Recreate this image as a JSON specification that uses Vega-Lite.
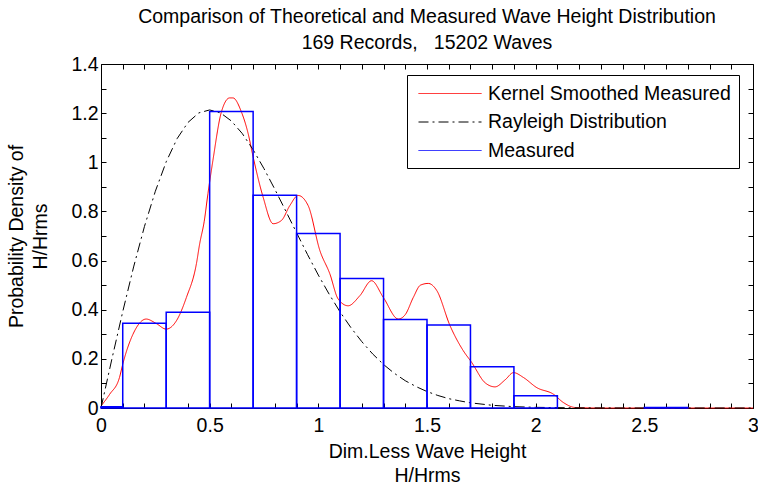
{
  "$schema": "https://vega.github.io/schema/vega-lite/v6.json",
  "width": 652,
  "height": 344,
  "autosize": "none",
  "padding": {"left": 101, "top": 64, "right": 5, "bottom": 81},
  "background": "white",
  "config": {
    "font": "Liberation Sans",
    "view": {"stroke": "black", "strokeWidth": 1},
    "axis": {
      "domain": false,
      "grid": false,
      "tickColor": "black",
      "tickSize": -5,
      "labelColor": "black",
      "labelFontSize": 19.5,
      "titleFontSize": 19.5,
      "titleFontWeight": "normal",
      "titleColor": "black",
      "labelOverlap": false,
      "labelFlush": false
    }
  },
  "title": {
    "text": ["Comparison of Theoretical and Measured Wave Height Distribution", "169 Records,\u00a0\u00a0 15202 Waves"],
    "fontSize": 19.5,
    "fontWeight": "normal",
    "lineHeight": 26,
    "anchor": "middle",
    "color": "black",
    "offset": 1
  },
  "datasets": {
    "kernel": [
      {"x": 0, "y": 0.008}, {"x": 0.04, "y": 0.056}, {"x": 0.085, "y": 0.124}, {"x": 0.1, "y": 0.178},
      {"x": 0.147, "y": 0.3}, {"x": 0.208, "y": 0.362}, {"x": 0.254, "y": 0.344}, {"x": 0.3, "y": 0.321},
      {"x": 0.347, "y": 0.355}, {"x": 0.393, "y": 0.45}, {"x": 0.439, "y": 0.587}, {"x": 0.454, "y": 0.668},
      {"x": 0.475, "y": 0.76}, {"x": 0.492, "y": 0.872}, {"x": 0.515, "y": 1.008}, {"x": 0.554, "y": 1.205},
      {"x": 0.592, "y": 1.262}, {"x": 0.607, "y": 1.262}, {"x": 0.646, "y": 1.205}, {"x": 0.677, "y": 1.117},
      {"x": 0.7, "y": 1.022}, {"x": 0.746, "y": 0.858}, {"x": 0.792, "y": 0.75}, {"x": 0.83, "y": 0.763},
      {"x": 0.869, "y": 0.824}, {"x": 0.907, "y": 0.865}, {"x": 0.953, "y": 0.824}, {"x": 1.007, "y": 0.641},
      {"x": 1.053, "y": 0.546}, {"x": 1.091, "y": 0.444}, {"x": 1.137, "y": 0.416}, {"x": 1.191, "y": 0.457},
      {"x": 1.245, "y": 0.518}, {"x": 1.299, "y": 0.45}, {"x": 1.368, "y": 0.362}, {"x": 1.4, "y": 0.38},
      {"x": 1.437, "y": 0.45}, {"x": 1.47, "y": 0.5}, {"x": 1.506, "y": 0.507}, {"x": 1.545, "y": 0.478},
      {"x": 1.606, "y": 0.335}, {"x": 1.667, "y": 0.233}, {"x": 1.706, "y": 0.185}, {"x": 1.767, "y": 0.103},
      {"x": 1.813, "y": 0.086}, {"x": 1.86, "y": 0.115}, {"x": 1.898, "y": 0.144}, {"x": 1.944, "y": 0.124},
      {"x": 2.005, "y": 0.083}, {"x": 2.082, "y": 0.056}, {"x": 2.128, "y": 0.022}, {"x": 2.182, "y": 0.002},
      {"x": 2.3, "y": 0}, {"x": 3.0, "y": 0}
    ],
    "rayleigh": [
      {"x": 0, "y": 0}, {"x": 0.05, "y": 0.199}, {"x": 0.1, "y": 0.392}, {"x": 0.15, "y": 0.574},
      {"x": 0.2, "y": 0.739}, {"x": 0.25, "y": 0.882}, {"x": 0.3, "y": 1.002}, {"x": 0.35, "y": 1.096},
      {"x": 0.4, "y": 1.162}, {"x": 0.45, "y": 1.201}, {"x": 0.5, "y": 1.213}, {"x": 0.55, "y": 1.201},
      {"x": 0.6, "y": 1.168}, {"x": 0.65, "y": 1.117}, {"x": 0.7, "y": 1.051}, {"x": 0.75, "y": 0.974},
      {"x": 0.8, "y": 0.89}, {"x": 0.85, "y": 0.802}, {"x": 0.9, "y": 0.713}, {"x": 0.95, "y": 0.625},
      {"x": 1.0, "y": 0.541}, {"x": 1.05, "y": 0.463}, {"x": 1.1, "y": 0.391}, {"x": 1.15, "y": 0.327},
      {"x": 1.2, "y": 0.27}, {"x": 1.25, "y": 0.22}, {"x": 1.3, "y": 0.177}, {"x": 1.35, "y": 0.141},
      {"x": 1.4, "y": 0.111}, {"x": 1.45, "y": 0.087}, {"x": 1.5, "y": 0.067}, {"x": 1.55, "y": 0.051},
      {"x": 1.6, "y": 0.038}, {"x": 1.65, "y": 0.029}, {"x": 1.7, "y": 0.021}, {"x": 1.8, "y": 0.011},
      {"x": 1.9, "y": 0.0055}, {"x": 2.0, "y": 0.0027}, {"x": 2.2, "y": 0.0005}, {"x": 2.5, "y": 0},
      {"x": 3.0, "y": 0}
    ],
    "hist": [
      {"x0": 0, "x1": 0.1, "h": 0.005}, {"x0": 0.1, "x1": 0.3, "h": 0.345}, {"x0": 0.3, "x1": 0.5, "h": 0.39},
      {"x0": 0.5, "x1": 0.7, "h": 1.207}, {"x0": 0.7, "x1": 0.9, "h": 0.866}, {"x0": 0.9, "x1": 1.1, "h": 0.71},
      {"x0": 1.1, "x1": 1.3, "h": 0.527}, {"x0": 1.3, "x1": 1.5, "h": 0.36}, {"x0": 1.5, "x1": 1.7, "h": 0.338},
      {"x0": 1.7, "x1": 1.9, "h": 0.168}, {"x0": 1.9, "x1": 2.1, "h": 0.05}, {"x0": 2.5, "x1": 2.7, "h": 0.002}
    ]
  },
  "layer": [
    {
      "data": {"name": "kernel"},
      "mark": {"type": "line", "interpolate": "monotone", "strokeWidth": 1},
      "encoding": {
        "x": {
          "field": "x", "type": "quantitative",
          "scale": {"domain": [0, 3], "nice": false, "zero": false},
          "axis": {
            "orient": "bottom",
            "title": ["Dim.Less Wave Height", "H/Hrms"],
            "titleLineHeight": 24,
            "titlePadding": 8,
            "values": [0,0.1,0.2,0.3,0.4,0.5,0.6,0.7,0.8,0.9,1,1.1,1.2,1.3,1.4,1.5,1.6,1.7,1.8,1.9,2,2.1,2.2,2.3,2.4,2.5,2.6,2.7,2.8,2.9,3],
            "labelExpr": "abs(datum.value*2 - round(datum.value*2)) < 0.001 ? format(datum.value, '~g') : ''",
            "labelPadding": 13
          }
        },
        "y": {
          "field": "y", "type": "quantitative",
          "scale": {"domain": [0, 1.4], "nice": false},
          "axis": {
            "orient": "left",
            "title": ["Probability Density of", "H/Hrms"],
            "titleLineHeight": 24,
            "titlePadding": 20,
            "values": [0,0.1,0.2,0.3,0.4,0.5,0.6,0.7,0.8,0.9,1,1.1,1.2,1.3,1.4],
            "labelExpr": "abs(datum.value*5 - round(datum.value*5)) < 0.001 ? format(datum.value, '~g') : ''",
            "labelPadding": 8
          }
        },
        "color": {
          "datum": "Kernel Smoothed Measured", "type": "nominal",
          "scale": {"domain": ["Kernel Smoothed Measured", "Rayleigh Distribution", "Measured"], "range": ["#ff0000", "#000000", "#0000ff"]},
          "legend": {
            "orient": "none", "legendX": 306, "legendY": 11, "title": null,
            "symbolType": "M-3.15,0H3.15", "symbolSize": 400, "symbolStrokeWidth": 1,
            "labelFontSize": 19.5, "labelColor": "black", "labelOffset": 27.5, "labelLimit": 500,
            "labelExpr": "datum.label + '\u00a0\u00a0\u00a0\u00a0'",
            "padding": 8, "rowPadding": 8.5, "symbolOffset": 24.5,
            "fillColor": "white", "strokeColor": "black"
          }
        },
        "strokeDash": {
          "datum": "Kernel Smoothed Measured", "type": "nominal",
          "scale": {"domain": ["Kernel Smoothed Measured", "Rayleigh Distribution", "Measured"], "range": [[1, 0], [10, 4, 2, 4], [1, 0]]},
          "legend": {
            "orient": "none", "legendX": 306, "legendY": 11, "title": null,
            "symbolType": "M-3.15,0H3.15", "symbolSize": 400, "symbolStrokeWidth": 1,
            "labelFontSize": 19.5, "labelColor": "black", "labelOffset": 27.5, "labelLimit": 500,
            "labelExpr": "datum.label + '\u00a0\u00a0\u00a0\u00a0'",
            "padding": 8, "rowPadding": 8.5, "symbolOffset": 24.5,
            "fillColor": "white", "strokeColor": "black"
          }
        }
      }
    },
    {
      "data": {"name": "rayleigh"},
      "mark": {"type": "line", "strokeWidth": 1},
      "encoding": {
        "x": {"field": "x", "type": "quantitative", "axis": null},
        "y": {"field": "y", "type": "quantitative", "axis": null},
        "color": {"datum": "Rayleigh Distribution", "type": "nominal"},
        "strokeDash": {"datum": "Rayleigh Distribution", "type": "nominal"}
      }
    },
    {
      "data": {"name": "hist"},
      "mark": {"type": "rect", "filled": false, "strokeWidth": 1.5},
      "encoding": {
        "x": {"field": "x0", "type": "quantitative", "axis": null},
        "x2": {"field": "x1"},
        "y": {"field": "h", "type": "quantitative", "axis": null},
        "y2": {"datum": 0},
        "color": {"datum": "Measured", "type": "nominal"}
      }
    },
    {
      "data": {"name": "rayleigh"},
      "mark": {"type": "point", "opacity": 0},
      "encoding": {
        "x": {
          "field": "x", "type": "quantitative",
          "axis": {"orient": "top", "labels": false, "title": null, "values": [0,0.1,0.2,0.3,0.4,0.5,0.6,0.7,0.8,0.9,1,1.1,1.2,1.3,1.4,1.5,1.6,1.7,1.8,1.9,2,2.1,2.2,2.3,2.4,2.5,2.6,2.7,2.8,2.9,3]}
        },
        "y": {
          "field": "y", "type": "quantitative",
          "axis": {"orient": "right", "labels": false, "title": null, "values": [0,0.1,0.2,0.3,0.4,0.5,0.6,0.7,0.8,0.9,1,1.1,1.2,1.3,1.4]}
        }
      }
    }
  ],
  "resolve": {"axis": {"x": "independent", "y": "independent"}}
}
